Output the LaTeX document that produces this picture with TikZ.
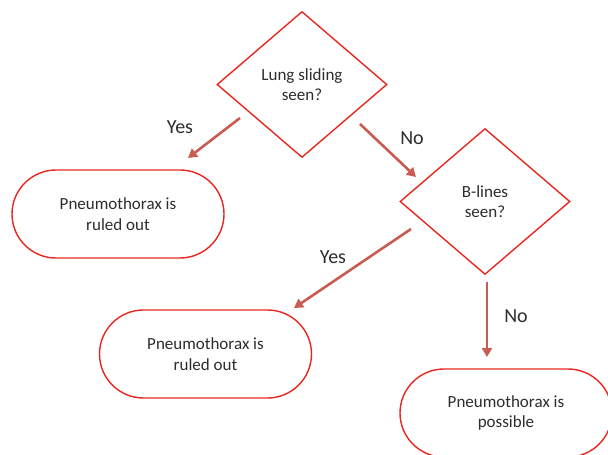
\documentclass[tikz,border=0pt]{standalone}
\usepackage{fontspec}
\setmainfont{Carlito}
\usetikzlibrary{shapes.geometric,arrows.meta}
\definecolor{boxred}{RGB}{232,40,32}
\definecolor{arrowred}{RGB}{201,92,82}
\definecolor{txt}{RGB}{45,45,45}
\tikzset{
  decision/.style={diamond,draw=boxred,line width=1.4pt,minimum width=170pt,minimum height=146pt,inner sep=0pt,align=center,text=txt,font=\fontsize{17}{20.5}\selectfont},
  outcome/.style={rectangle,rounded corners=44pt,draw=boxred,line width=1.4pt,minimum width=212pt,minimum height=88pt,align=center,text=txt,font=\fontsize{17}{20.5}\selectfont},
  flow/.style={draw=arrowred,line width=2.6pt,-{Triangle[length=9pt,width=10pt]}},
  lbl/.style={text=txt,font=\fontsize{20}{24}\selectfont,inner sep=0pt}
}
\begin{document}
\begin{tikzpicture}[x=1pt,y=-1pt]
\useasboundingbox (0,0) rectangle (608,455);
\clip (0,0) rectangle (608,455);
\fill[white] (0,0) rectangle (608,455);
\node[decision] (d1) at (302,84.5) {Lung sliding\\seen?};
\node[decision] (d2) at (485,201.5) {B-lines\\seen?};
\node[outcome] (o1) at (118,214) {Pneumothorax is\\ruled out};
\node[outcome] (o2) at (205.5,354) {Pneumothorax is\\ruled out};
\node[outcome] (o3) at (506,413) {Pneumothorax is\\possible};
\coordinate (a1s) at (240,118);
\coordinate (a1e) at (188,158);
\coordinate (a2s) at (360,124);
\coordinate (a2e) at (416,177);
\coordinate (a3s) at (411,229);
\coordinate (a3e) at (294,308);
\coordinate (a4s) at (487,282);
\coordinate (a4e) at (487,357);
\draw[flow] (a1s) -- (a1e);
\draw[flow] (a2s) -- (a2e);
\draw[flow] (a3s) -- (a3e);
\draw[flow] (a4s) -- (a4e);
\node[lbl] (l1) at (180,127) {Yes};
\node[lbl] (l2) at (412,138) {No};
\node[lbl] (l3) at (333,257) {Yes};
\node[lbl] (l4) at (516,316) {No};
\end{tikzpicture}
\end{document}
